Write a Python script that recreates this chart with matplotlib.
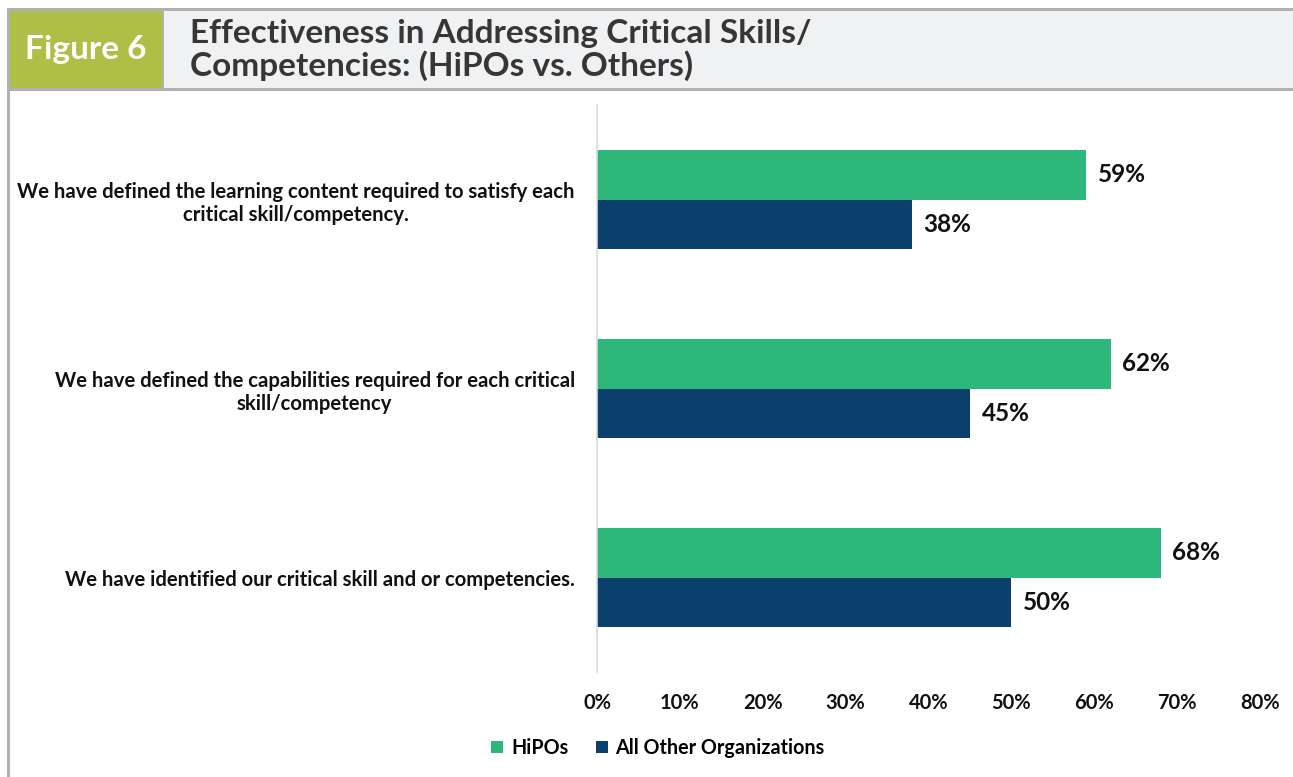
import numpy as np
import matplotlib.pyplot as plt
from matplotlib.patches import Rectangle

plt.rcParams['font.family'] = ['Lato', 'DejaVu Sans']

categories = [
    "We have defined the learning content required to satisfy each\ncritical skill/competency.",
    "We have defined the capabilities required for each critical\nskill/competency",
    "We have identified our critical skill and or competencies.",
]
hipos = [59, 62, 68]
others = [38, 45, 50]
series_names = ["HiPOs", "All Other Organizations"]
xticks = [0, 10, 20, 30, 40, 50, 60, 70, 80]

green = "#2eb77a"
navy = "#0c406c"
frame_grey = "#b0b0b0"

W, H = 1293, 777
fig = plt.figure(figsize=(W / 100, H / 100), dpi=100)

# header: green "Figure 6" tab + light grey title strip, grey frame
def px_rect(x0, y0, x1, y1, **kw):
    fig.patches.append(Rectangle((x0 / W, 1 - y1 / H), (x1 - x0) / W, (y1 - y0) / H,
                                 transform=fig.transFigure, **kw))

px_rect(8, 8, W, 91, facecolor="#f0f1f3", edgecolor="none")
px_rect(8, 8, 163, 91, facecolor="#afbe47", edgecolor="none")
px_rect(7, 8, W, 11, facecolor=frame_grey, edgecolor="none")
px_rect(7, 88, W, 91, facecolor=frame_grey, edgecolor="none")
px_rect(7, 8, 10, H, facecolor=frame_grey, edgecolor="none")
px_rect(162, 8, 164, 91, facecolor=frame_grey, edgecolor="none")

fig.text(86 / W, 1 - 50 / H, "Figure 6", color="white", fontsize=24, fontweight="bold",
         ha="center", va="center")
fig.text(190 / W, 1 - 50 / H, "Effectiveness in Addressing Critical Skills/\nCompetencies: (HiPOs vs. Others)",
         color="#363636", fontsize=24, fontweight="bold", ha="left", va="center", linespacing=1.08)

ax = fig.add_axes([597 / W, 1 - 672 / H, (1260 - 597) / W, (672 - 105) / H])

y = np.arange(len(categories))
h = 0.262
b1 = ax.barh(y - h / 2, hipos, height=h, color=green, label=series_names[0])
b2 = ax.barh(y + h / 2, others, height=h, color=navy, label=series_names[1])

for bars, vals in ((b1, hipos), (b2, others)):
    for rect, v in zip(bars, vals):
        ax.text(v + 1.4, rect.get_y() + rect.get_height() / 2, f"{v}%",
                va="center", ha="left", fontsize=17.5, fontweight="bold", color="#111111")

ax.set_xlim(0, 80)
ax.set_ylim(2.5, -0.5)
ax.set_xticks(xticks)
ax.set_xticklabels([f"{t}%" for t in xticks], fontsize=14.5, fontweight="bold", color="#111111")
ax.set_yticks(y)
ax.set_yticklabels(categories, fontsize=14.6, fontweight="bold", color="#111111")
for lbl in ax.get_yticklabels():
    lbl.set_multialignment("center")
ax.tick_params(axis="both", length=0)
ax.tick_params(axis="x", pad=15)
ax.tick_params(axis="y", pad=16)
for s in ("top", "right", "bottom"):
    ax.spines[s].set_visible(False)
ax.spines["left"].set_color("#d9d9d9")
ax.spines["left"].set_linewidth(1.2)

fig.legend(handles=[b1, b2], loc="center", bbox_to_anchor=(658 / W, 1 - 748 / H), ncol=2,
           frameon=False, prop={"size": 14.2, "weight": "bold"}, handlelength=0.6,
           handleheight=0.6, handletextpad=0.4, columnspacing=1.4)

fig.savefig("out.png", dpi=100)
